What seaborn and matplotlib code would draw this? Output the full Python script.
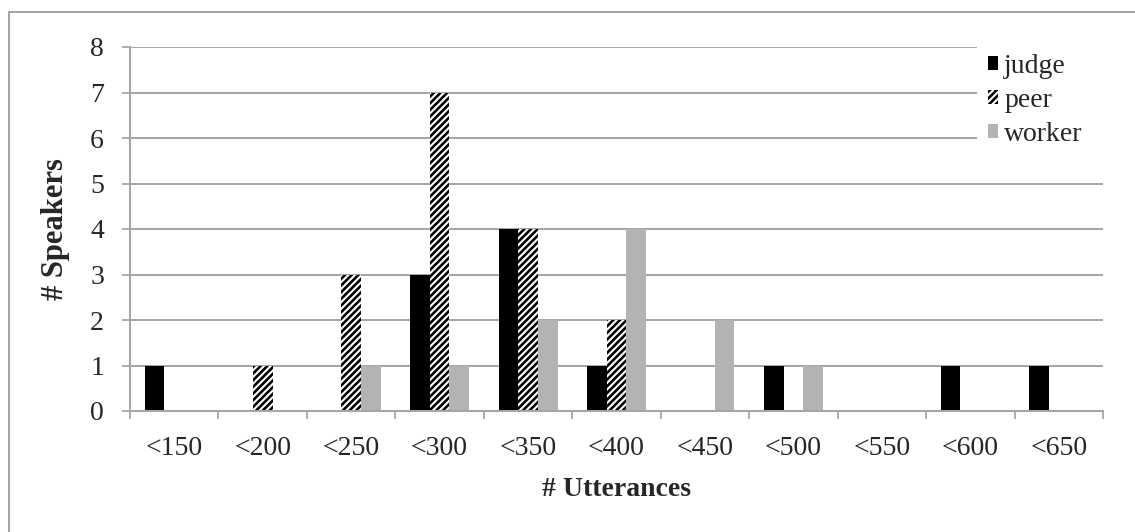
import matplotlib
matplotlib.use("Agg")
import matplotlib.pyplot as plt
from matplotlib.patches import Patch, Rectangle
from matplotlib.lines import Line2D
import seaborn as sns
import pandas as pd

categories = ["<150", "<200", "<250", "<300", "<350", "<400", "<450", "<500", "<550", "<600", "<650"]
judge = [1, 0, 0, 3, 4, 1, 0, 1, 0, 1, 1]
peer = [0, 1, 3, 7, 4, 2, 0, 0, 0, 0, 0]
worker = [0, 0, 1, 1, 2, 4, 2, 1, 0, 0, 0]
series_names = ["judge", "peer", "worker"]
y_ticks = [0, 1, 2, 3, 4, 5, 6, 7, 8]

rows = []
for name, vals in zip(series_names, [judge, peer, worker]):
    for c, v in zip(categories, vals):
        rows.append({"bin": c, "speakers": v, "role": name})
df = pd.DataFrame(rows)

W, H, DPI = 1135, 532, 120


def pt(px):
    return px * 72.0 / DPI


sns.set_style("white")
plt.rcParams["font.family"] = ["Liberation Serif", "DejaVu Serif"]
plt.rcParams["hatch.linewidth"] = pt(2.6)

GRID = "#A6A6A6"
HATCH = "//////"
colors = {"judge": "#000000", "peer": "#FFFFFF", "worker": "#B3B3B3"}
FS = pt(27.8)

fig = plt.figure(figsize=(W / DPI, H / DPI), dpi=DPI)
ax = fig.add_axes([130 / W, 1 - 411 / H, (1103 - 130) / W, (411 - 47) / H])

sns.barplot(data=df, x="bin", y="speakers", hue="role", order=categories,
            hue_order=series_names, palette=colors, width=0.667, gap=0,
            linewidth=0, saturation=1, legend=False, ax=ax, zorder=3)

for cont, name in zip(ax.containers, series_names):
    for p in cont.patches:
        p.set_linewidth(0)
        if name == "peer":
            p.set_facecolor("white")
            p.set_edgecolor("black")
            p.set_hatch(HATCH)

ax.set_ylim(0, 8)
ax.set_yticks(y_ticks)
ax.set_xlim(-0.5, len(categories) - 0.5)
ax.yaxis.grid(True, color=GRID, linewidth=pt(2), zorder=0)
ax.set_axisbelow(True)
for s in ["top", "right"]:
    ax.spines[s].set_visible(False)
for s in ["left", "bottom"]:
    ax.spines[s].set_color(GRID)
    ax.spines[s].set_linewidth(pt(2))
    ax.spines[s].set_zorder(4)

ax.tick_params(axis="y", length=pt(8), width=pt(1.8), color=GRID, direction="out",
               labelsize=FS, pad=pt(18), left=True)
ax.tick_params(axis="x", which="major", length=0, labelsize=FS, pad=pt(25))
ax.set_xticks([i - 0.5 for i in range(len(categories) + 1)], minor=True)
ax.tick_params(axis="x", which="minor", length=pt(8), width=pt(1.8), color=GRID,
               direction="out", bottom=True)

ax.set_xlabel("# Utterances", fontsize=FS, fontweight="bold", labelpad=pt(16))
ax.set_ylabel("# Speakers", fontsize=pt(30.6), fontweight="bold", labelpad=pt(20))

# white legend background area (hides the gridlines behind the legend)
ax.add_patch(Rectangle((977 / W, 1 - 160 / H), (1106 - 977) / W, (160 - 42) / H,
                       transform=fig.transFigure, facecolor="white", edgecolor="none",
                       zorder=2.5, clip_on=False))

handles = [Patch(facecolor="black", edgecolor="black", linewidth=0),
           Patch(facecolor="white", edgecolor="black", linewidth=0, hatch=HATCH),
           Patch(facecolor="#B3B3B3", edgecolor="#B3B3B3", linewidth=0)]
leg = ax.legend(handles, series_names, loc="upper left",
                bbox_to_anchor=(977 / W, 1 - 43 / H), bbox_transform=fig.transFigure,
                frameon=False, fontsize=FS, handlelength=0.36, handleheight=0.36,
                handletextpad=0.22, labelspacing=0.32, borderaxespad=0, borderpad=0.4)

# outer chart frame
fig.add_artist(Line2D([9 / W, 1.0], [1 - 12 / H, 1 - 12 / H],
                      transform=fig.transFigure, color=GRID, linewidth=pt(2)))
fig.add_artist(Line2D([9 / W, 9 / W], [0, 1 - 12 / H],
                      transform=fig.transFigure, color=GRID, linewidth=pt(2)))

fig.savefig("out.png", dpi=DPI)
